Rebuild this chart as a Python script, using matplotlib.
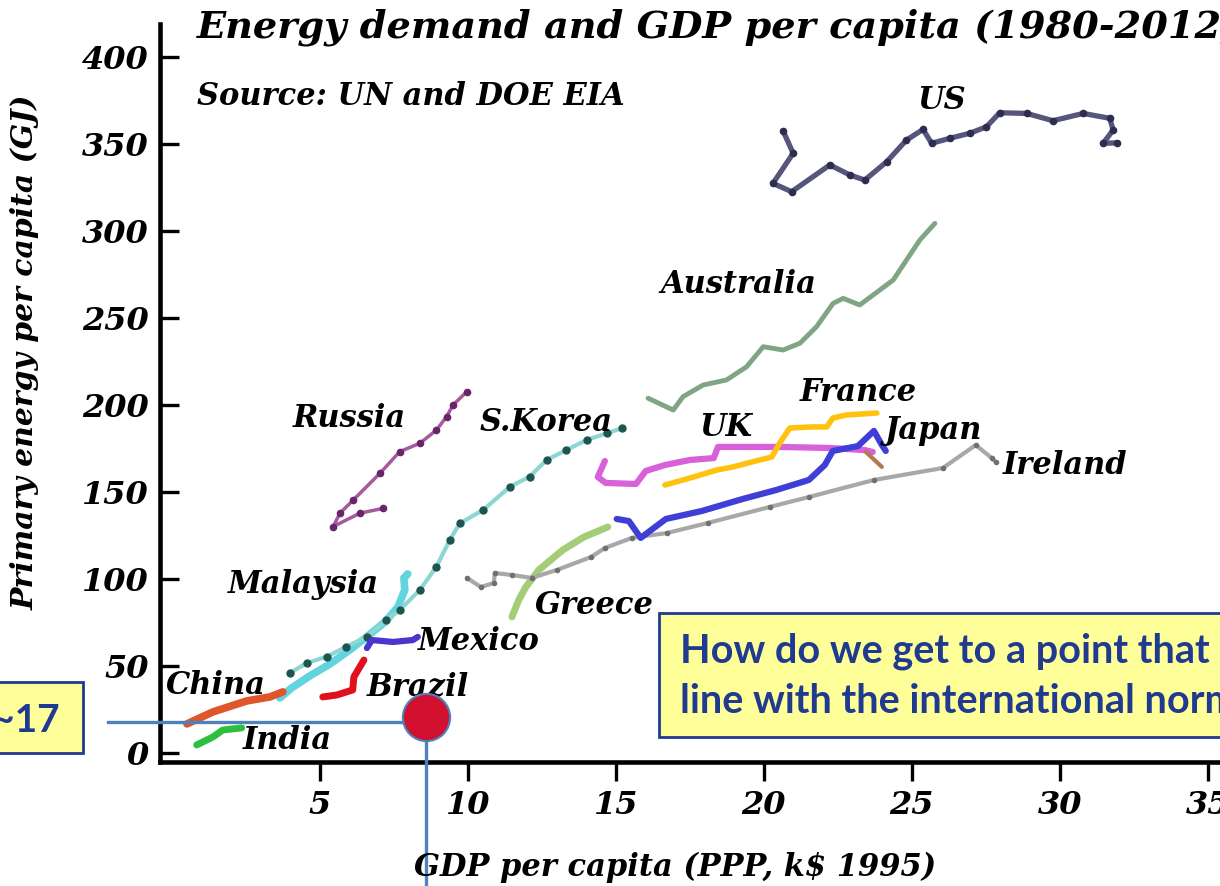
import matplotlib
matplotlib.use("Agg")
import matplotlib.pyplot as plt
from matplotlib.patches import Rectangle

# ---------------- data (GDP per capita k$ 1995 PPP, energy GJ per capita) ----------------
us_gdp = [20.65, 20.99, 20.31, 20.94, 22.23, 22.91, 23.41, 24.15, 24.82, 25.38, 25.67, 26.28,
          26.96, 27.52, 27.97, 28.88, 29.77, 30.79, 31.69, 31.80, 31.46, 31.92]
us_energy = [357.6, 344.7, 327.4, 322.6, 338.0, 332.2, 329.3, 339.8, 352.3, 358.4, 350.4, 353.3,
             356.2, 359.9, 368.0, 367.6, 363.4, 367.6, 364.8, 358.0, 350.4, 350.7]

australia_gdp = [16.09, 16.94, 17.27, 17.95, 18.74, 19.42, 19.98, 20.65, 21.22, 21.78, 22.34,
                 22.68, 23.24, 23.92, 24.37, 24.82, 25.27, 25.78]
australia_energy = [203.9, 197.1, 204.8, 211.5, 214.4, 222.0, 233.5, 231.6, 235.5, 245.0, 258.4,
                    261.3, 257.5, 266.1, 271.8, 283.3, 294.8, 304.4]

russia_gdp = [9.96, 9.50, 9.28, 8.94, 8.38, 7.70, 7.03, 6.13, 5.68, 5.45, 6.35, 7.14]
russia_energy = [207.6, 200.0, 193.3, 185.6, 178.0, 173.2, 160.7, 145.4, 137.8, 130.1, 137.8, 140.6]

skorea_gdp = [3.99, 4.55, 5.23, 5.90, 6.58, 7.25, 7.70, 8.38, 8.94, 9.39, 9.73, 10.52, 11.42,
              12.09, 12.66, 13.33, 14.01, 14.69, 15.20]
skorea_energy = [46.0, 51.6, 55.3, 61.1, 66.8, 76.4, 82.2, 93.7, 107.1, 122.4, 132.0, 139.7, 153.0,
                 158.8, 168.4, 174.1, 179.9, 183.7, 186.6]

malaysia_gdp = [3.65, 4.05, 4.66, 5.34, 6.01, 6.62, 7.20, 7.64, 7.87, 7.84, 7.97]
malaysia_energy = [31.6, 37.4, 44.3, 51.1, 59.2, 67.2, 75.3, 83.9, 93.7, 100.6, 102.9]

china_gdp = [0.51, 1.39, 2.53, 3.31, 3.75]
china_energy = [16.7, 23.6, 29.9, 32.2, 35.1]

india_gdp = [0.84, 1.39, 1.72, 2.36]
india_energy = [4.6, 9.2, 13.2, 14.4]

mexico_gdp = [6.59, 6.76, 7.47, 8.14, 8.31]
mexico_energy = [60.3, 64.9, 63.8, 64.9, 66.7]

brazil_gdp = [5.10, 5.57, 6.11, 6.15, 6.35, 6.49]
brazil_energy = [32.2, 33.3, 36.2, 43.7, 49.4, 53.4]

greece_gdp = [11.49, 11.72, 11.96, 12.40, 13.21, 13.92, 14.73]
greece_energy = [78.2, 87.9, 95.4, 105.2, 116.7, 124.1, 129.9]

ireland_gdp = [9.97, 10.44, 10.88, 10.91, 11.49, 12.16, 13.01, 14.16, 14.63, 15.54, 16.72, 18.11,
               20.20, 21.52, 23.72, 26.05, 27.16, 27.70, 27.84]
ireland_energy = [100.6, 95.4, 97.7, 103.4, 102.3, 100.6, 105.2, 112.6, 117.8, 123.6, 126.4, 132.2,
                  141.4, 147.1, 156.9, 163.8, 177.0, 169.5, 167.2]

japan_gdp = [15.03, 15.44, 15.84, 16.69, 17.91, 19.29, 20.41, 21.52, 22.06, 22.33, 23.18, 23.72,
             23.99, 24.12]
japan_energy = [134.5, 133.3, 123.6, 134.5, 139.1, 146.0, 151.1, 156.9, 165.5, 173.6, 176.4, 185.1,
                177.0, 173.6]

uk_gdp = [14.63, 14.39, 14.66, 15.68, 16.01, 16.66, 17.50, 18.31, 18.45, 19.43, 20.54, 22.23,
          23.41, 23.68]
uk_energy = [167.8, 158.6, 155.2, 154.6, 162.1, 165.5, 168.4, 169.5, 175.9, 175.9, 175.9, 175.3,
             174.1, 173.0]

france_gdp = [16.66, 17.50, 18.41, 18.95, 19.86, 20.27, 20.54, 20.88, 21.66, 22.13, 22.33, 22.80, 23.82]
france_energy = [154.0, 158.0, 162.6, 164.4, 168.4, 170.1, 178.2, 186.8, 187.4, 187.4, 192.5, 194.3, 195.4]

other_gdp = [23.45, 23.99]
other_energy = [173.0, 164.4]

target_gdp = 8.6
target_energy = 20.5
target_level = 18.0

x_ticks = [5, 10, 15, 20, 25, 30, 35]
y_ticks = [0, 50, 100, 150, 200, 250, 300, 350, 400]

title_text = "Energy demand and GDP per capita (1980-2012)"
source_text = "Source: UN and DOE EIA"
xlabel_text = "GDP per capita (PPP, k$ 1995)"
ylabel_text = "Primary energy per capita (GJ)"
box_lines = ["How do we get to a point that is in", "line with the international norm?"]
small_box_text = "~17"

# ---------------- styles ----------------
series = [
    ("US", us_gdp, us_energy, dict(color="#56557B", lw=3.8, marker="o", ms=4.5, mfc="#2E2D50", mec="#2E2D50")),
    ("Australia", australia_gdp, australia_energy, dict(color="#7FA584", lw=3.5)),
    ("Russia", russia_gdp, russia_energy, dict(color="#A45AA0", lw=2.5, marker="o", ms=4.5, mfc="#6B2468", mec="#6B2468")),
    ("Malaysia", malaysia_gdp, malaysia_energy, dict(color="#62D4E0", lw=5.5)),
    ("S.Korea", skorea_gdp, skorea_energy, dict(color="#8ED6D2", lw=3, marker="o", ms=5, mfc="#1F5550", mec="#1F5550")),
    ("China", china_gdp, china_energy, dict(color="#E0552A", lw=5.5)),
    ("India", india_gdp, india_energy, dict(color="#2FBF3F", lw=5)),
    ("Mexico", mexico_gdp, mexico_energy, dict(color="#4A35D0", lw=4.5)),
    ("Brazil", brazil_gdp, brazil_energy, dict(color="#E0101E", lw=5)),
    ("Greece", greece_gdp, greece_energy, dict(color="#A5CC78", lw=5)),
    ("Ireland", ireland_gdp, ireland_energy, dict(color="#A8A8A8", lw=3, marker="o", ms=3, mfc="#707070", mec="#707070")),
    ("UK", uk_gdp, uk_energy, dict(color="#D860D8", lw=4.5)),
    ("France", france_gdp, france_energy, dict(color="#FFC20E", lw=4)),
    ("Japan", japan_gdp, japan_energy, dict(color="#3F3FD8", lw=4.5)),
    ("", other_gdp, other_energy, dict(color="#B07A55", lw=3)),
]

label_pos = {
    "US": (25.2, 375.3), "Australia": (16.49, 269.0), "France": (21.22, 206.9),
    "UK": (17.84, 186.8), "Japan": (24.09, 185.6), "Ireland": (28.07, 165.5),
    "Russia": (4.09, 192.5), "S.Korea": (10.41, 190.2), "Malaysia": (1.89, 96.6),
    "Greece": (12.26, 84.5), "Mexico": (8.31, 63.8), "China": (-0.20, 38.5),
    "Brazil": (6.59, 37.9), "India": (2.40, 6.9),
}

serif = dict(family="DejaVu Serif", weight="bold", style="italic")

W, H = 1220, 886
fig = plt.figure(figsize=(W / 100, H / 100), dpi=100)
fig.patch.set_facecolor("white")

ax = fig.add_axes([160 / W, (H - 762) / H, (1267 - 160) / W, (762 - 24) / H])
ax.set_xlim(-0.4, 37.0)
ax.set_ylim(-5.2, 419)

for name, xs, ys, st in series:
    ax.plot(xs, ys, solid_capstyle="round", solid_joinstyle="round", zorder=3, **st)
    if name:
        lx, ly = label_pos[name]
        ax.text(lx, ly, name, ha="left", va="center", fontsize=22, color="black", zorder=5, **serif)

for s in ["top", "right"]:
    ax.spines[s].set_visible(False)
for s in ["left", "bottom"]:
    ax.spines[s].set_linewidth(3.3)

ax.set_xticks(x_ticks)
ax.set_yticks(y_ticks)
ax.set_xticklabels([str(v) for v in x_ticks])
ax.set_yticklabels([str(v) for v in y_ticks])
ax.tick_params(axis="y", direction="in", length=14, width=2.4, pad=8)
ax.tick_params(axis="x", direction="out", length=14, width=2.4, pad=6)
for lab in ax.get_xticklabels() + ax.get_yticklabels():
    lab.set_fontfamily("DejaVu Serif")
    lab.set_fontweight("bold")
    lab.set_fontstyle("italic")
    lab.set_fontsize(23)

# titles and axis labels
fig.text(197 / W, (H - 38) / H, title_text, ha="left", va="baseline", fontsize=27.5, **serif)
fig.text(197 / W, (H - 105) / H, source_text, ha="left", va="baseline", fontsize=22, **serif)
fig.text(675 / W, (H - 876) / H, xlabel_text, ha="center", va="baseline", fontsize=22, **serif)
fig.text(25 / W, (H - 352) / H, ylabel_text, ha="center", va="center", rotation=90, fontsize=21.5, **serif)

# annotation: target point and guide lines
guide = "#4F81BD"
ax.plot([-2.16, target_gdp], [target_level, target_level], color=guide, lw=2.4, clip_on=False, zorder=8)
ax.plot([target_gdp, target_gdp], [target_energy, -80], color=guide, lw=2.4, clip_on=False, zorder=8)
ax.plot([target_gdp], [target_energy], marker="o", ms=34, mfc="#D0102E", mec=guide, mew=1.5,
        clip_on=False, zorder=9)

# yellow boxes
navy = "#1F3A8F"
fig.patches.append(Rectangle((-10 / W, (H - 753) / H), 93 / W, 71 / H, transform=fig.transFigure,
                             facecolor="#FFFF99", edgecolor=navy, lw=2, zorder=10))
fig.text(60 / W, (H - 732) / H, small_box_text, ha="right", va="baseline", fontsize=28,
         family="Lato", weight="bold", color=navy, zorder=11)

fig.patches.append(Rectangle((659 / W, (H - 737) / H), 700 / W, 124 / H, transform=fig.transFigure,
                             facecolor="#FFFF99", edgecolor=navy, lw=2, zorder=10))
fig.text(680 / W, (H - 663) / H, box_lines[0], ha="left", va="baseline", fontsize=28.5,
         family="Lato", weight="bold", color=navy, zorder=11)
fig.text(680 / W, (H - 713) / H, box_lines[1], ha="left", va="baseline", fontsize=28.5,
         family="Lato", weight="bold", color=navy, zorder=11)

fig.savefig("out.png", dpi=100)
